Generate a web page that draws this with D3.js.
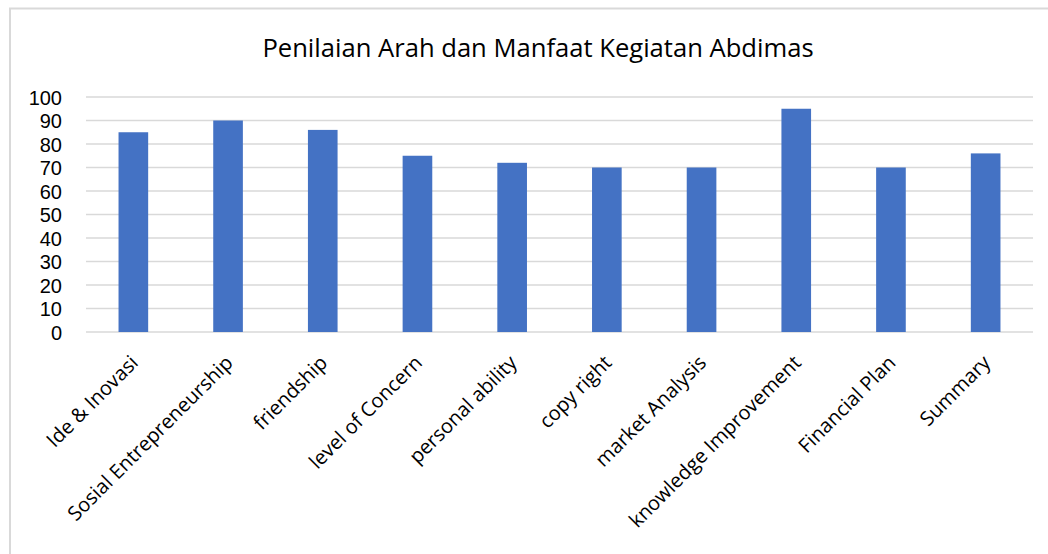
<!DOCTYPE html>
<html>
<head>
<meta charset="utf-8">
<script src="https://cdn.jsdelivr.net/npm/d3@7"></script>
<style>
  body { margin: 0; background: #fff; }
  svg { display: block; font-family: "Open Sans", sans-serif; }
</style>
</head>
<body>
<div id="chart"></div>
<script>
// Chart data
const title = "Penilaian Arah dan Manfaat Kegiatan Abdimas";
const categories = [
    "Ide & Inovasi", "Sosial Entrepreneurship", "friendship", "level of Concern",
    "personal ability", "copy right", "market Analysis", "knowledge Improvement",
    "Financial Plan", "Summary"
];
const scores = [85, 90, 86, 75, 72, 70, 70, 95, 70, 76];
const yTicks = [0, 10, 20, 30, 40, 50, 60, 70, 80, 90, 100];

const width = 1048;
const height = 554;
const margin = { top: 97, right: 15, bottom: 222, left: 86 };

const svg = d3.select("#chart")
    .append("svg")
    .attr("width", width)
    .attr("height", height);

// Chart frame (only top and left edges are visible in the picture)
svg.append("rect")
    .attr("x", 10)
    .attr("y", 8.5)
    .attr("width", width + 20)
    .attr("height", height + 20)
    .attr("fill", "none")
    .attr("stroke", "#d9d9d9")
    .attr("stroke-width", 2);

// Title
svg.append("text")
    .attr("x", 538)
    .attr("y", 57)
    .attr("text-anchor", "middle")
    .attr("font-size", "25.6px")
    .attr("fill", "#000")
    .text(title);

// Scales
const x = d3.scaleBand()
    .domain(categories)
    .range([margin.left, width - margin.right])
    .paddingInner(0.687)
    .paddingOuter(0.3435);

const y = d3.scaleLinear()
    .domain([0, 100])
    .range([height - margin.bottom, margin.top]);

// Gridlines
svg.append("g")
    .selectAll("line")
    .data(yTicks)
    .enter()
    .append("line")
    .attr("x1", margin.left)
    .attr("x2", width - margin.right)
    .attr("y1", d => y(d))
    .attr("y2", d => y(d))
    .attr("stroke", "#d9d9d9")
    .attr("stroke-width", 1.5);

// Y axis labels
const yAxis = svg.append("g")
    .attr("transform", `translate(${margin.left - 24},0)`)
    .call(d3.axisLeft(y).tickValues(yTicks).tickSize(0).tickPadding(0));
yAxis.select(".domain").remove();
yAxis.selectAll("text")
    .attr("font-family", "Liberation Sans, sans-serif")
    .attr("font-size", "20px")
    .attr("dy", "0.36em")
    .attr("fill", "#000");

// Bars
svg.append("g")
    .selectAll("rect")
    .data(scores)
    .enter()
    .append("rect")
    .attr("x", (d, i) => x(categories[i]))
    .attr("y", d => y(d))
    .attr("width", x.bandwidth())
    .attr("height", d => y(0) - y(d))
    .attr("fill", "#4472c4");

// X axis labels, rotated
svg.append("g")
    .selectAll("text")
    .data(categories)
    .enter()
    .append("text")
    .attr("transform", d => {
        const cx = x(d) + x.bandwidth() / 2 + 6;
        return `translate(${cx},364) rotate(-45)`;
    })
    .attr("text-anchor", "end")
    .attr("font-size", "20px")
    .attr("fill", "#000")
    .text(d => d);
</script>
</body>
</html>
